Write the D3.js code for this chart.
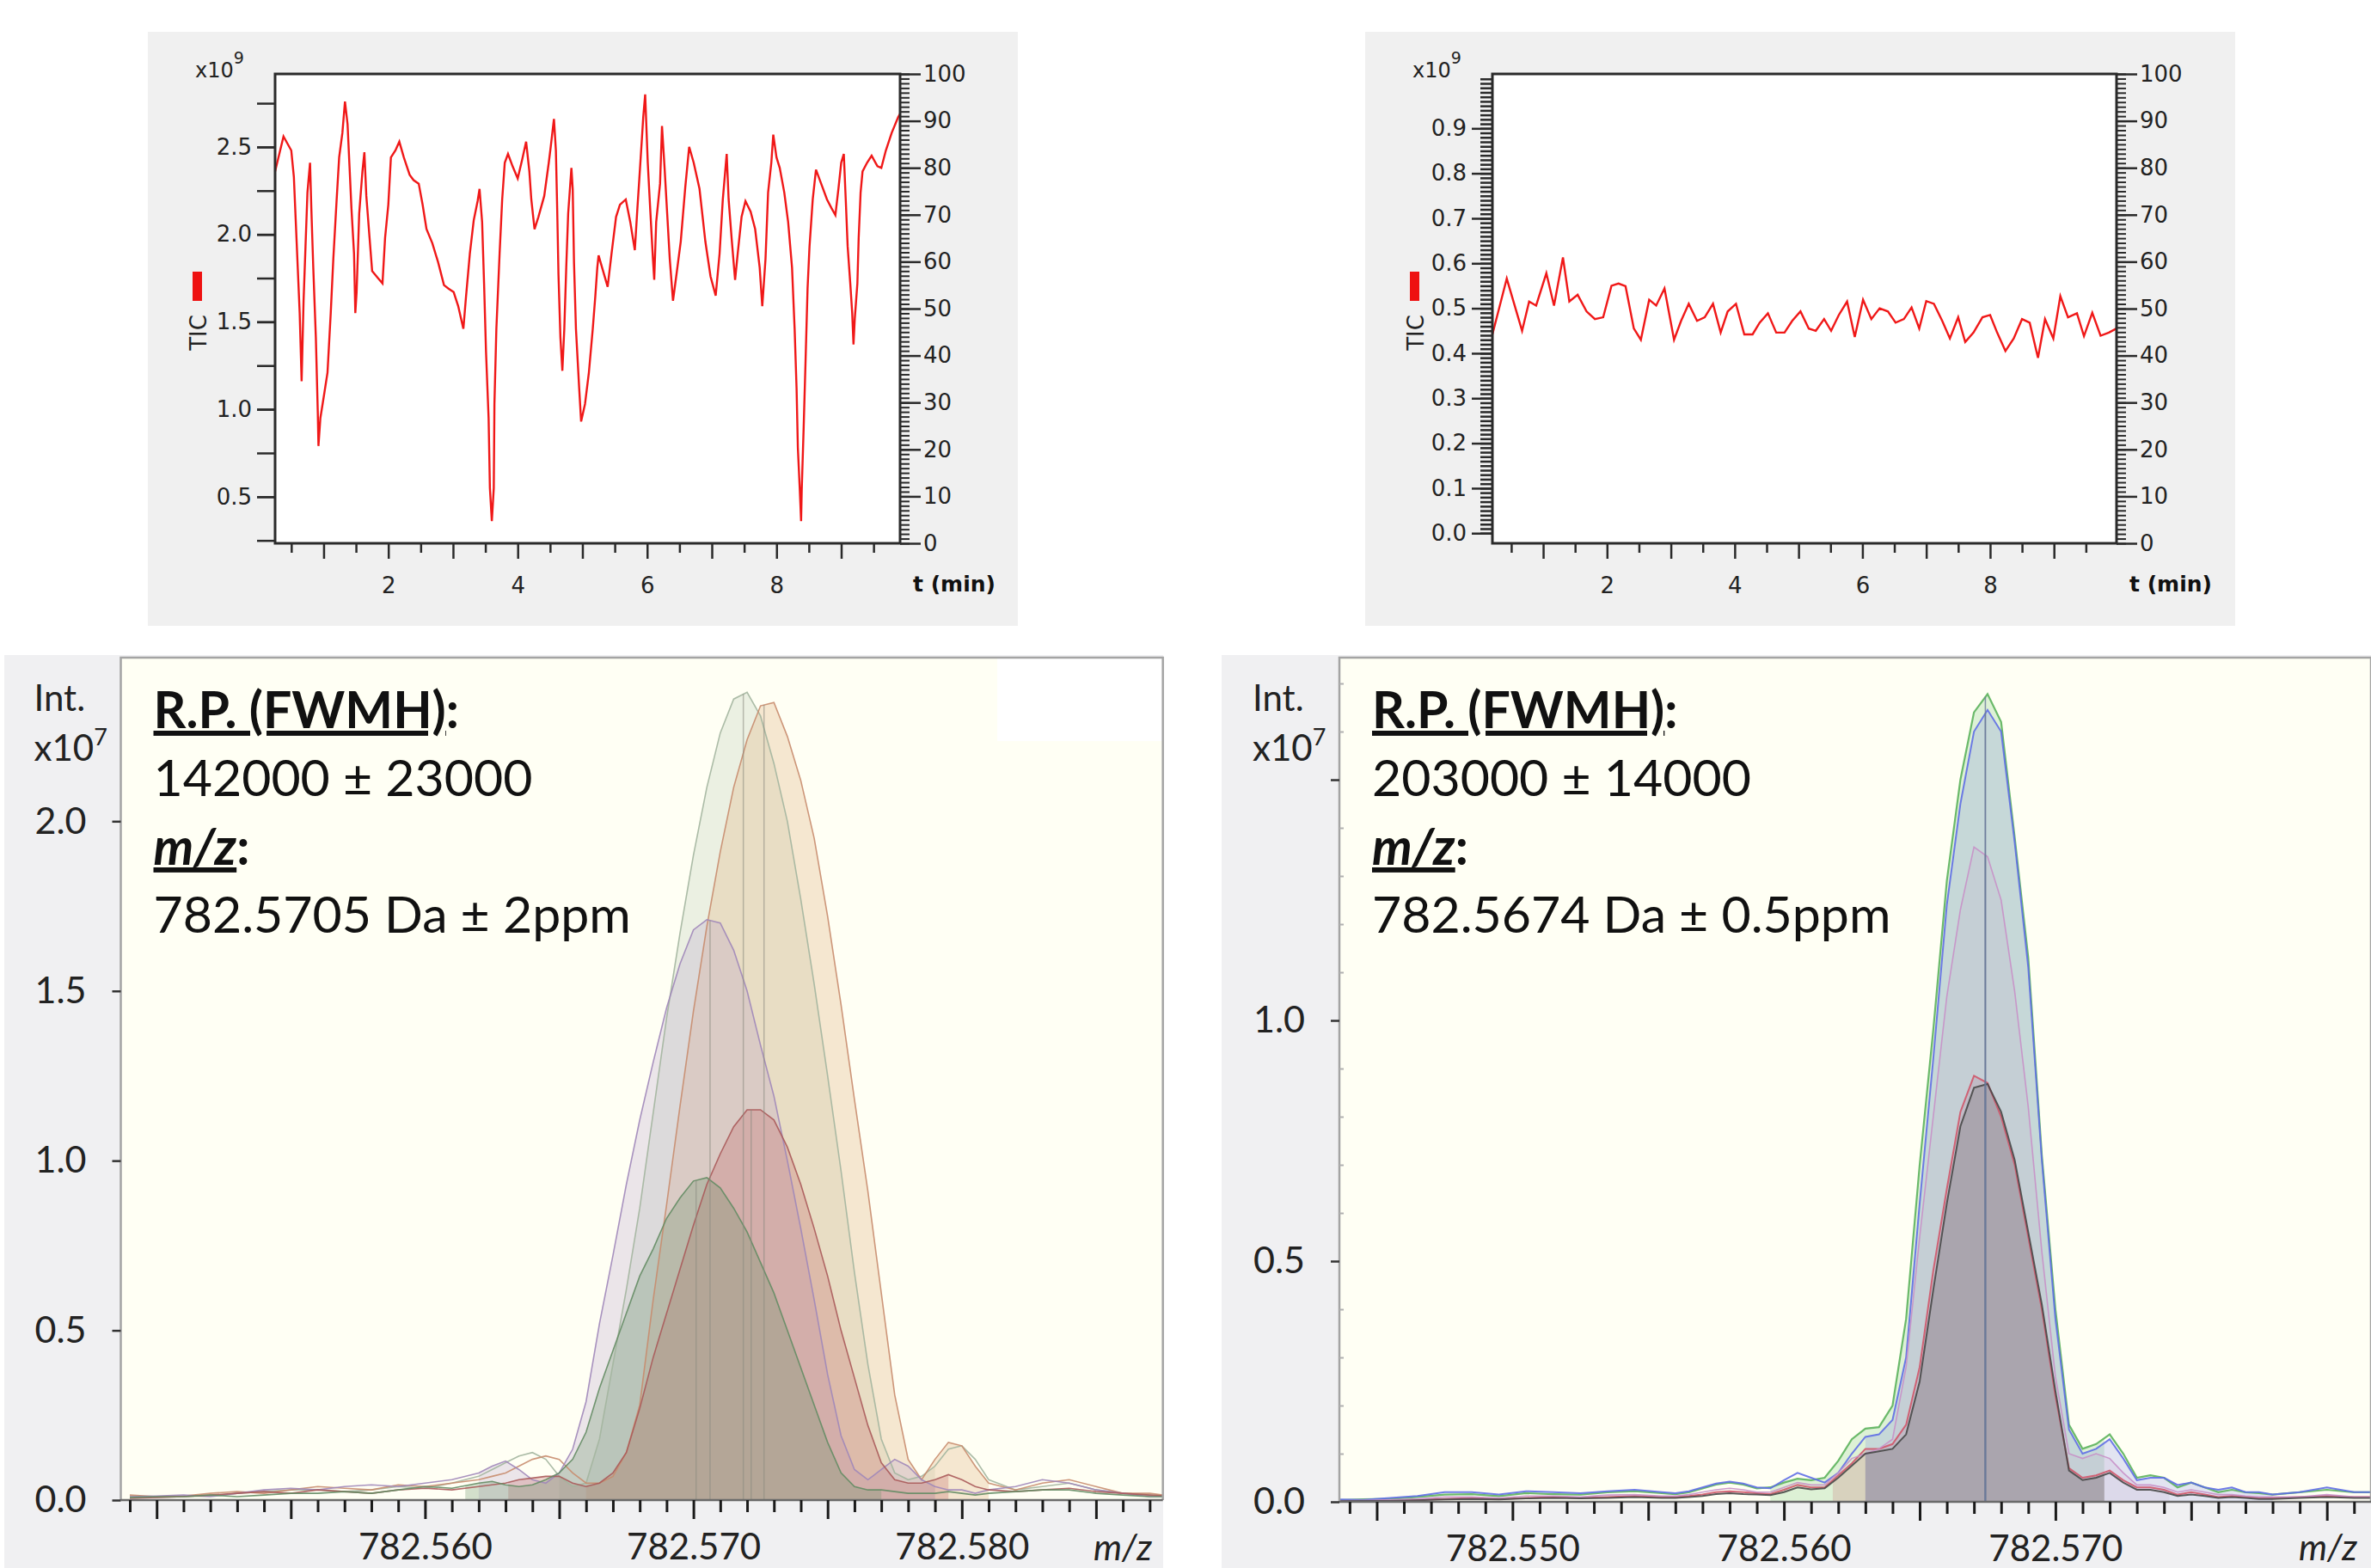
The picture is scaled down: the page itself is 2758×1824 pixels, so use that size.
<!DOCTYPE html>
<html>
<head>
<meta charset="utf-8">
<script src="https://cdn.jsdelivr.net/npm/d3@7"></script>
<style>
  body { margin: 0; background: #fff; }
  svg { display: block; }
</style>
</head>
<body>
<div id="my_dataviz"></div>
<script>

// ---------- data: total ion chromatograms (top) ----------
var ticLeftTime = [0.25,0.38,0.50,0.54,0.57,0.60,0.63,0.66,0.69,0.72,0.75,0.79,0.81,0.84,0.88,0.91,0.92,0.95,1.01,1.06,
  1.11,1.15,1.20,1.24,1.29,1.33,1.37,1.40,1.43,1.47,1.49,1.51,1.55,1.60,1.63,1.66,1.71,1.75,1.84,1.91,
  1.95,2.00,2.04,2.11,2.17,2.24,2.33,2.39,2.47,2.53,2.59,2.68,2.77,2.86,2.93,3.01,3.08,3.16,3.20,3.26,
  3.32,3.38,3.41,3.45,3.48,3.51,3.55,3.57,3.60,3.63,3.64,3.67,3.72,3.76,3.80,3.85,3.92,4.00,4.07,4.13,
  4.18,4.21,4.26,4.32,4.41,4.48,4.51,4.56,4.59,4.61,4.63,4.66,4.69,4.72,4.75,4.78,4.83,4.85,4.87,4.90,
  4.95,4.98,5.04,5.10,5.16,5.20,5.23,5.25,5.32,5.39,5.45,5.52,5.58,5.67,5.74,5.81,5.85,5.88,5.92,5.94,
  5.97,6.01,6.05,6.09,6.11,6.14,6.20,6.23,6.27,6.31,6.35,6.40,6.45,6.52,6.59,6.65,6.72,6.81,6.90,6.98,
  7.06,7.12,7.17,7.23,7.26,7.31,7.36,7.40,7.46,7.52,7.60,7.67,7.74,7.78,7.83,7.87,7.92,7.95,8.00,8.05,
  8.12,8.18,8.24,8.28,8.31,8.33,8.36,8.38,8.39,8.42,8.45,8.48,8.51,8.56,8.61,8.69,8.78,8.85,8.91,8.96,
  9.00,9.04,9.07,9.10,9.14,9.17,9.19,9.21,9.25,9.27,9.30,9.33,9.40,9.47,9.56,9.62,9.69,9.78,9.88,9.91];
var ticLeftValue = [2.36,2.56,2.48,2.33,2.07,1.81,1.55,1.16,1.62,1.93,2.24,2.41,2.15,1.81,1.41,0.98,0.79,0.95,1.09,1.21,
  1.55,1.86,2.19,2.44,2.58,2.76,2.63,2.39,2.15,1.89,1.55,1.67,2.12,2.36,2.47,2.22,1.98,1.79,1.75,1.72,
  1.98,2.17,2.44,2.48,2.53,2.44,2.34,2.31,2.29,2.17,2.03,1.95,1.84,1.71,1.69,1.67,1.59,1.46,1.64,1.89,
  2.08,2.19,2.26,2.07,1.72,1.33,0.95,0.55,0.36,0.55,1.03,1.46,1.89,2.20,2.41,2.46,2.39,2.32,2.43,2.53,
  2.36,2.20,2.03,2.10,2.22,2.41,2.50,2.66,2.48,2.15,1.77,1.41,1.22,1.46,1.81,2.12,2.38,2.26,1.84,1.46,
  1.12,0.93,1.03,1.21,1.46,1.65,1.81,1.88,1.79,1.70,1.89,2.10,2.17,2.20,2.07,1.91,2.15,2.32,2.55,2.67,
  2.80,2.41,2.13,1.86,1.74,2.07,2.29,2.62,2.38,2.12,1.86,1.62,1.76,1.96,2.27,2.50,2.41,2.26,1.96,1.76,
  1.65,1.89,2.20,2.46,2.20,1.96,1.74,1.89,2.10,2.19,2.13,2.03,1.81,1.59,1.86,2.24,2.41,2.57,2.44,2.38,
  2.24,2.07,1.81,1.46,1.12,0.78,0.54,0.36,0.54,0.90,1.29,1.69,1.93,2.20,2.37,2.29,2.20,2.15,2.11,2.27,
  2.41,2.46,2.20,1.93,1.72,1.55,1.37,1.52,1.72,1.98,2.24,2.36,2.41,2.45,2.39,2.38,2.48,2.58,2.67,2.69];

var ticRightTime = [0.205,0.43,0.67,0.78,0.89,1.05,1.17,1.31,1.41,1.54,1.68,1.81,1.94,2.07,2.18,2.29,2.42,2.53,2.66,2.77,
  2.90,3.05,3.16,3.28,3.41,3.53,3.66,3.78,3.89,4.02,4.15,4.28,4.39,4.52,4.65,4.78,4.90,5.03,5.16,5.27,
  5.40,5.51,5.63,5.76,5.88,6.01,6.14,6.27,6.40,6.52,6.65,6.77,6.89,7.00,7.12,7.25,7.37,7.50,7.61,7.74,
  7.88,8.00,8.11,8.24,8.37,8.50,8.62,8.75,8.86,8.99,9.10,9.22,9.36,9.47,9.60,9.73,9.86,9.98];
var ticRightValue = [0.442,0.566,0.450,0.515,0.506,0.578,0.506,0.613,0.515,0.530,0.493,0.476,0.480,0.550,0.555,0.549,0.455,0.430,0.519,0.506,
  0.544,0.430,0.472,0.510,0.472,0.480,0.510,0.446,0.493,0.510,0.442,0.442,0.468,0.489,0.446,0.446,0.472,0.493,0.455,0.450,
  0.476,0.450,0.485,0.515,0.436,0.519,0.476,0.500,0.493,0.468,0.476,0.502,0.455,0.516,0.510,0.472,0.433,0.480,0.425,0.446,
  0.480,0.485,0.446,0.405,0.433,0.476,0.468,0.390,0.476,0.433,0.527,0.480,0.489,0.438,0.490,0.439,0.446,0.455];

// ---------- data: overlaid mass peaks (bottom left) ----------
var mzLeft = [782.5490,782.5500,782.5510,782.5520,782.5530,782.5540,782.5550,782.5560,782.5570,782.5580,782.5590,782.5600,782.5610,782.5620,
  782.5625,782.5630,782.5635,782.5640,782.5645,782.5650,782.5655,782.5660,782.5665,782.5670,782.5675,782.5680,782.5685,782.5690,782.5695,782.5700,
  782.5705,782.5710,782.5715,782.5720,782.5725,782.5730,782.5735,782.5740,782.5745,782.5750,782.5755,782.5760,782.5765,782.5770,782.5775,782.5780,
  782.5785,782.5790,782.5795,782.5800,782.5805,782.5810,
  782.5820,782.5830,782.5840,782.5850,782.5860,782.5870,782.5880];
var scanA = [0.010,0.008,0.010,0.012,0.020,0.025,0.030,0.030,0.025,0.030,0.040,0.035,0.050,0.070,
  0.09,0.11,0.13,0.14,0.12,0.07,0.04,0.05,0.18,0.40,0.62,0.86,1.14,1.42,1.67,1.90,
  2.10,2.26,2.36,2.38,2.31,2.17,2.00,1.77,1.52,1.25,0.97,0.67,0.40,0.18,0.08,0.06,
  0.07,0.10,0.15,0.16,0.12,0.06,
  0.03,0.04,0.05,0.03,0.02,0.015,0.01];
var scanB = [0.015,0.010,0.012,0.020,0.025,0.020,0.030,0.040,0.035,0.030,0.045,0.040,0.050,0.060,
  0.07,0.08,0.10,0.12,0.13,0.12,0.08,0.05,0.05,0.07,0.14,0.28,0.59,0.87,1.16,1.44,
  1.69,1.91,2.10,2.24,2.34,2.35,2.25,2.12,1.95,1.72,1.46,1.18,0.91,0.61,0.31,0.12,
  0.06,0.12,0.17,0.16,0.10,0.05,
  0.03,0.05,0.06,0.04,0.02,0.02,0.01];
var scanC = [0.010,0.012,0.015,0.010,0.020,0.030,0.035,0.030,0.040,0.045,0.040,0.050,0.060,0.080,
  0.10,0.115,0.09,0.06,0.05,0.08,0.15,0.29,0.52,0.72,0.93,1.12,1.29,1.45,1.58,1.68,
  1.71,1.70,1.62,1.50,1.34,1.19,1.00,0.80,0.59,0.37,0.19,0.09,0.06,0.09,0.12,0.10,
  0.06,0.04,0.03,0.03,0.02,0.03,
  0.04,0.06,0.05,0.03,0.02,0.01,0.01];
var scanD = [0.005,0.008,0.010,0.015,0.020,0.025,0.020,0.030,0.025,0.020,0.030,0.035,0.030,0.040,
  0.045,0.05,0.06,0.065,0.07,0.07,0.05,0.04,0.05,0.08,0.14,0.27,0.42,0.55,0.68,0.81,
  0.93,1.02,1.10,1.15,1.15,1.12,1.04,0.93,0.80,0.66,0.50,0.36,0.22,0.11,0.06,0.05,
  0.05,0.06,0.075,0.06,0.04,0.03,
  0.025,0.03,0.035,0.025,0.02,0.015,0.01];
var scanE = [0.008,0.010,0.010,0.015,0.010,0.015,0.020,0.020,0.025,0.020,0.030,0.040,0.035,0.050,
  0.055,0.045,0.04,0.045,0.06,0.08,0.12,0.20,0.33,0.44,0.55,0.66,0.74,0.83,0.89,0.94,
  0.95,0.92,0.86,0.79,0.70,0.61,0.50,0.39,0.28,0.17,0.08,0.04,0.03,0.03,0.025,0.02,
  0.02,0.02,0.025,0.02,0.015,0.02,
  0.025,0.03,0.03,0.02,0.015,0.01,0.01];
var centroidLeft = [782.57186, 782.57263, 782.57062, 782.57215, 782.57010];

// ---------- data: overlaid mass peaks (bottom right) ----------
var mzRight = [782.5435,782.5445,782.5455,782.5465,782.5475,782.5485,782.5495,782.5505,782.5515,782.5525,782.5535,782.5545,782.5555,
  782.5560,782.5565,782.5570,782.5575,782.5580,782.5585,782.5590,782.5595,782.5600,782.5605,782.5610,782.5615,782.5620,782.5625,782.5630,
  782.5635,782.5640,782.5645,782.5650,782.5655,782.5660,782.5665,782.5670,782.5675,782.5680,782.5685,782.5690,782.5695,782.5700,782.5705,
  782.5710,782.5715,782.5720,782.5725,782.5730,782.5735,782.5740,782.5745,782.5750,782.5755,782.5760,782.5765,782.5770,782.5775,782.5780,
  782.5790,782.5800,782.5810,782.5820];
var runGreen = [0.003,0.005,0.006,0.010,0.015,0.016,0.012,0.018,0.016,0.015,0.020,0.022,0.018,
  0.016,0.020,0.028,0.036,0.040,0.036,0.028,0.030,0.040,0.048,0.045,0.050,0.085,0.13,0.152,
  0.155,0.20,0.38,0.70,0.98,1.29,1.50,1.64,1.678,1.62,1.38,1.13,0.72,0.40,0.16,
  0.11,0.12,0.14,0.10,0.05,0.055,0.05,0.03,0.04,0.03,0.02,0.025,0.02,0.018,0.015,
  0.02,0.025,0.02,0.02];
var runBlue = [0.005,0.004,0.008,0.012,0.020,0.020,0.015,0.022,0.020,0.018,0.022,0.025,0.020,
  0.018,0.022,0.030,0.038,0.042,0.038,0.030,0.028,0.045,0.060,0.050,0.040,0.060,0.10,0.135,
  0.14,0.17,0.30,0.62,0.92,1.24,1.45,1.60,1.645,1.60,1.37,1.11,0.71,0.38,0.15,
  0.10,0.11,0.13,0.09,0.045,0.05,0.05,0.035,0.04,0.03,0.025,0.03,0.02,0.02,0.015,
  0.02,0.03,0.02,0.02];
var runMauve = [0.002,0.003,0.004,0.006,0.010,0.010,0.008,0.012,0.012,0.010,0.014,0.015,0.012,
  0.012,0.015,0.020,0.025,0.028,0.025,0.020,0.020,0.030,0.040,0.035,0.035,0.060,0.09,0.10,
  0.11,0.13,0.28,0.55,0.80,1.05,1.23,1.36,1.34,1.25,1.06,0.82,0.52,0.26,0.10,
  0.09,0.10,0.09,0.06,0.035,0.035,0.03,0.02,0.025,0.02,0.015,0.015,0.012,0.01,0.01,
  0.01,0.015,0.01,0.01];
var runRed = [0.002,0.002,0.003,0.004,0.006,0.008,0.006,0.008,0.010,0.008,0.010,0.012,0.010,
  0.010,0.012,0.015,0.020,0.022,0.020,0.018,0.016,0.025,0.035,0.030,0.030,0.055,0.08,0.11,
  0.11,0.12,0.16,0.28,0.48,0.65,0.81,0.885,0.87,0.80,0.70,0.55,0.40,0.22,0.07,
  0.05,0.055,0.065,0.045,0.03,0.03,0.025,0.015,0.02,0.015,0.01,0.012,0.01,0.008,0.008,
  0.01,0.012,0.01,0.01];
var runDark = [0.001,0.002,0.002,0.003,0.005,0.006,0.005,0.007,0.008,0.007,0.008,0.010,0.008,
  0.008,0.010,0.012,0.016,0.018,0.016,0.015,0.014,0.020,0.030,0.026,0.028,0.050,0.075,0.10,
  0.105,0.11,0.14,0.25,0.44,0.62,0.78,0.86,0.868,0.81,0.71,0.56,0.41,0.23,0.065,
  0.045,0.05,0.06,0.04,0.025,0.025,0.02,0.012,0.015,0.012,0.008,0.01,0.008,0.006,0.006,
  0.008,0.01,0.008,0.008];
var centroidRight = 782.56742;

// ---------- axis tick values ----------
var ticLeftMajor = [0.5, 1.0, 1.5, 2.0, 2.5];
var ticRightMajor = [0.0, 0.1, 0.2, 0.3, 0.4, 0.5, 0.6, 0.7, 0.8, 0.9];
var timeLabels = [2, 4, 6, 8];
var intLeftLabels = [0.0, 0.5, 1.0, 1.5, 2.0];
var intRightLabels = [0.0, 0.5, 1.0];

var W = 2758, H = 1824;
var svg = d3.select("#my_dataviz")
  .append("svg")
    .attr("width", W)
    .attr("height", H);

// helper: style the ticks an axis call just produced
function styleAxis(sel, color, width) {
  sel.select(".domain").remove();
  sel.selectAll("line").attr("stroke", color).attr("stroke-width", width);
}

// ================= TIC panels =================
function drawTic(p) {
  var top = 86, bottom = 632;
  var g = svg.append("g");

  g.append("rect")
    .attr("x", p.cardX).attr("y", 37)
    .attr("width", 1012).attr("height", 691)
    .attr("fill", "#f0f0f0");
  g.append("rect")
    .attr("x", p.left).attr("y", top)
    .attr("width", p.right - p.left).attr("height", bottom - top)
    .attr("fill", "#fff");

  var x = d3.scaleLinear().domain(p.xDomain).range([p.left, p.right]);
  var y = d3.scaleLinear().domain(p.yDomain).range([bottom, top]);
  var y2 = d3.scaleLinear().domain([0, 100]).range([bottom, top]);

  // the red trace
  var line = d3.line()
    .x(function (d, i) { return x(p.time[i]); })
    .y(function (d) { return y(d); });
  g.append("path")
    .datum(p.value)
    .attr("d", line)
    .attr("fill", "none")
    .attr("stroke", "#f01818")
    .attr("stroke-width", 2.4)
    .attr("stroke-linejoin", "miter");

  // left axis
  g.append("g")
    .attr("transform", "translate(" + p.left + ",0)")
    .call(d3.axisLeft(y).tickValues(p.yMinor).tickSize(p.minorLen).tickFormat(""))
    .call(styleAxis, "#2a2a2a", 2.5);
  var yl = g.append("g")
    .attr("transform", "translate(" + p.left + ",0)")
    .call(d3.axisLeft(y).tickValues(p.yMajor).tickSize(p.majorLen).tickPadding(6).tickFormat(d3.format(".1f")))
    .call(styleAxis, "#2a2a2a", 2.5);
  yl.selectAll("text").attr("font-family", "DejaVu Sans").attr("font-size", 26).attr("fill", "#222");

  // right axis 0-100
  g.append("g")
    .attr("transform", "translate(" + p.right + ",0)")
    .call(d3.axisRight(y2).tickValues(d3.range(0, 101)).tickSize(11).tickFormat(""))
    .call(styleAxis, "#2a2a2a", 2);
  var yr = g.append("g")
    .attr("transform", "translate(" + p.right + ",0)")
    .call(d3.axisRight(y2).tickValues(d3.range(0, 101, 10)).tickSize(24).tickPadding(3).tickFormat(d3.format("d")))
    .call(styleAxis, "#2a2a2a", 2.5);
  yr.selectAll("text").attr("font-family", "DejaVu Sans").attr("font-size", 26).attr("fill", "#222");

  // bottom axis: half minutes short, minutes long
  g.append("g")
    .attr("transform", "translate(0," + bottom + ")")
    .call(d3.axisBottom(x).tickValues(d3.range(1, 20, 2).map(function (k) { return k / 2; })).tickSize(11).tickFormat(""))
    .call(styleAxis, "#2a2a2a", 2.5);
  g.append("g")
    .attr("transform", "translate(0," + bottom + ")")
    .call(d3.axisBottom(x).tickValues(d3.range(1, 10)).tickSize(18).tickFormat(""))
    .call(styleAxis, "#2a2a2a", 2.5);
  var xb = g.append("g")
    .attr("transform", "translate(0," + bottom + ")")
    .call(d3.axisBottom(x).tickValues(timeLabels).tickSize(0).tickPadding(40).tickFormat(d3.format("d")))
    .call(styleAxis, "#2a2a2a", 0);
  xb.selectAll("text").attr("font-family", "DejaVu Sans").attr("font-size", 26).attr("fill", "#222");

  // frame
  g.append("rect")
    .attr("x", p.left).attr("y", top)
    .attr("width", p.right - p.left).attr("height", bottom - top)
    .attr("fill", "none").attr("stroke", "#2a2a2a").attr("stroke-width", 3);

  // labels
  g.append("text")
    .attr("x", p.right + 15).attr("y", 688)
    .attr("font-family", "DejaVu Sans").attr("font-weight", "bold").attr("font-size", 25)
    .attr("fill", "#111").text("t (min)");
  var xt = g.append("text")
    .attr("x", p.left - 93).attr("y", 90)
    .attr("font-family", "DejaVu Sans").attr("font-size", 24).attr("fill", "#222");
  xt.append("tspan").text("x10");
  xt.append("tspan").attr("dy", -16).attr("font-size", 19).text("9");
  g.append("rect")
    .attr("x", p.left - 96).attr("y", 316)
    .attr("width", 11).attr("height", 34)
    .attr("fill", "#ee1111");
  g.append("text")
    .attr("transform", "translate(" + (p.left - 80) + ",387) rotate(-90)")
    .attr("text-anchor", "middle")
    .attr("font-family", "DejaVu Sans").attr("font-size", 26).attr("fill", "#222")
    .text("TIC");
}

drawTic({
  cardX: 172, left: 320, right: 1047,
  xDomain: [0.25, 9.91], yDomain: [0.2335, 2.9175],
  time: ticLeftTime, value: ticLeftValue,
  yMinor: d3.range(1, 12).map(function (k) { return k * 0.25; }),
  yMajor: ticLeftMajor, minorLen: 21, majorLen: 21
});
drawTic({
  cardX: 1588, left: 1736, right: 2462,
  xDomain: [0.205, 9.98], yDomain: [-0.0225, 1.0210],
  time: ticRightTime, value: ticRightValue,
  yMinor: d3.range(0, 102).map(function (k) { return k / 100; }),
  yMajor: ticRightMajor, minorLen: 14, majorLen: 24
});

// ================= mass spectrum panels =================
function valueAt(xs, vs, m) {
  var i = d3.bisectLeft(xs, m);
  if (i <= 0) return vs[0];
  if (i >= xs.length) return vs[vs.length - 1];
  var t = (m - xs[i - 1]) / (xs[i] - xs[i - 1]);
  return vs[i - 1] + t * (vs[i] - vs[i - 1]);
}

function drawSpec(p) {
  var top = 765;
  var g = svg.append("g");

  g.append("rect")
    .attr("x", p.cardX).attr("y", 762)
    .attr("width", p.cardW).attr("height", H - 762)
    .attr("fill", "#f0f0f2");
  g.append("rect")
    .attr("x", p.left).attr("y", top)
    .attr("width", p.right - p.left).attr("height", p.bottom - top)
    .attr("fill", "#fffff4");
  if (p.whitePatch) {
    g.append("rect")
      .attr("x", p.whitePatch[0]).attr("y", top)
      .attr("width", p.right - p.whitePatch[0]).attr("height", p.whitePatch[1] - top)
      .attr("fill", "#ffffff");
  }

  var x = d3.scaleLinear().domain(p.xDomain).range([p.left, p.right]);
  var y = d3.scaleLinear().domain([0, p.yTop]).range([p.bottom, top]);

  var clipId = "clip" + p.cardX;
  g.append("clipPath").attr("id", clipId)
    .append("rect")
      .attr("x", p.left).attr("y", top)
      .attr("width", p.right - p.left).attr("height", p.bottom - top);
  var plot = g.append("g").attr("clip-path", "url(#" + clipId + ")");

  var area = d3.area()
    .x(function (d) { return x(d[0]); })
    .y0(y(0))
    .y1(function (d) { return y(d[1]); });
  var line = d3.line()
    .x(function (d, i) { return x(p.mz[i]); })
    .y(function (d) { return y(d); });

  // translucent fills over each scan's integration range
  p.series.forEach(function (s) {
    var pts = [[s.from, valueAt(p.mz, s.values, s.from)]];
    p.mz.forEach(function (m, i) { if (m > s.from && m < s.to) pts.push([m, s.values[i]]); });
    pts.push([s.to, valueAt(p.mz, s.values, s.to)]);
    plot.append("path").datum(pts).attr("d", area).attr("fill", s.fill);
  });
  // profile lines
  p.series.forEach(function (s) {
    plot.append("path")
      .datum(s.values)
      .attr("d", line)
      .attr("fill", "none")
      .attr("stroke", s.stroke)
      .attr("stroke-width", s.width || 1.6)
      .attr("stroke-opacity", 0.9);
  });
  // centroid sticks
  p.series.forEach(function (s) {
    plot.append("line")
      .attr("x1", x(s.centroid)).attr("x2", x(s.centroid))
      .attr("y1", y(0)).attr("y2", y(valueAt(p.mz, s.values, s.centroid)))
      .attr("stroke", p.stickColor || s.stroke).attr("stroke-width", 1.5).attr("stroke-opacity", p.stickOpacity);
  });

  // frame
  g.append("path")
    .attr("d", "M" + p.left + "," + p.bottom + "V" + top + "H" + p.right + "V" + p.bottom)
    .attr("fill", "none").attr("stroke", "#a4a4a4").attr("stroke-width", 2.5);
  g.append("line")
    .attr("x1", p.left).attr("x2", p.right).attr("y1", p.bottom).attr("y2", p.bottom)
    .attr("stroke", "#6a6a6a").attr("stroke-width", 2.5);

  // m/z ticks: every 0.001, longer every 0.005
  var ks = d3.range(p.kRange[0], p.kRange[1] + 1);
  g.append("g")
    .attr("transform", "translate(0," + p.bottom + ")")
    .call(d3.axisBottom(x).tickValues(ks.filter(function (k) { return k % 5 !== 0; }).map(function (k) { return 782 + k / 1000; })).tickSize(14).tickFormat(""))
    .call(styleAxis, "#1a1a1a", 3);
  g.append("g")
    .attr("transform", "translate(0," + p.bottom + ")")
    .call(d3.axisBottom(x).tickValues(ks.filter(function (k) { return k % 5 === 0; }).map(function (k) { return 782 + k / 1000; })).tickSize(22).tickFormat(""))
    .call(styleAxis, "#1a1a1a", 3);
  var xl = g.append("g")
    .attr("transform", "translate(0," + p.bottom + ")")
    .call(d3.axisBottom(x).tickValues(p.mzLabels).tickSize(0).tickPadding(39).tickFormat(d3.format(".3f")))
    .call(styleAxis, "#1a1a1a", 0);
  xl.selectAll("text").attr("font-family", "Lato").attr("font-size", 42).attr("fill", "#222");
  g.append("text")
    .attr("x", p.mzLabelX).attr("y", 1815)
    .attr("font-family", "Lato").attr("font-style", "italic").attr("font-size", 42).attr("fill", "#222")
    .text("m/z");

  // intensity axis
  var yl = g.append("g")
    .attr("transform", "translate(" + p.left + ",0)")
    .call(d3.axisLeft(y).tickValues(p.yTicks).tickSize(10).tickPadding(30).tickFormat(function (d) {
      return p.yLabels.indexOf(d) >= 0 ? d3.format(".1f")(d) : "";
    }))
    .call(styleAxis, "#333", 2.5);
  yl.selectAll("text").attr("font-family", "Lato").attr("font-size", 43).attr("fill", "#222");
  if (p.yMinor) {
    g.append("g")
      .attr("transform", "translate(" + p.left + ",0)")
      .call(d3.axisRight(y).tickValues(p.yMinor).tickSize(5).tickFormat(""))
      .call(styleAxis, "#b0b0b0", 2);
  }
  g.append("text")
    .attr("x", p.left - 101).attr("y", 827)
    .attr("font-family", "Lato").attr("font-size", 42).attr("fill", "#222")
    .text("Int.");
  var xt = g.append("text")
    .attr("x", p.left - 101).attr("y", 885)
    .attr("font-family", "Lato").attr("font-size", 42).attr("fill", "#222");
  xt.append("tspan").text("x10");
  xt.append("tspan").attr("dy", -18).attr("font-size", 27).text("7");

  // resolution / mass annotation
  var tx = p.left + 38;
  var t1 = g.append("text").attr("x", tx).attr("y", 847)
    .attr("font-family", "Lato").attr("font-size", 59).attr("font-weight", "bold").attr("fill", "#111");
  t1.append("tspan").attr("text-decoration", "underline").text("R.P. (FWMH)");
  t1.append("tspan").text(":");
  g.append("text").attr("x", tx).attr("y", 926)
    .attr("font-family", "Lato").attr("font-size", 59).attr("fill", "#111")
    .text(p.rp);
  var t3 = g.append("text").attr("x", tx).attr("y", 1006)
    .attr("font-family", "Lato").attr("font-size", 59).attr("font-weight", "bold").attr("fill", "#111");
  t3.append("tspan").attr("font-style", "italic").attr("text-decoration", "underline").text("m/z");
  t3.append("tspan").text(":");
  g.append("text").attr("x", tx).attr("y", 1085)
    .attr("font-family", "Lato").attr("font-size", 59).attr("fill", "#111")
    .text(p.mass);
}

drawSpec({
  cardX: 5, cardW: 1348, left: 140.5, right: 1352.7, bottom: 1745,
  xDomain: [782.548664, 782.587492], yTop: 2.482,
  kRange: [549, 587], mzLabels: [782.560, 782.570, 782.580], mzLabelX: 1272,
  yTicks: intLeftLabels, yLabels: intLeftLabels,
  whitePatch: [1160, 862],
  stickColor: "#8a8a80", stickOpacity: 0.55,
  mz: mzLeft,
  series: [
    { values: scanA, stroke: "#a3b59e", fill: "rgba(190,205,185,0.30)", from: 782.5650, to: 782.5790, centroid: centroidLeft[0] },
    { values: scanB, stroke: "#c88c6e", fill: "rgba(225,185,140,0.35)", from: 782.5660, to: 782.5810, centroid: centroidLeft[1] },
    { values: scanC, stroke: "#a087b9", fill: "rgba(175,150,200,0.25)", from: 782.5620, to: 782.5790, centroid: centroidLeft[2] },
    { values: scanD, stroke: "#aa5a5a", fill: "rgba(195,110,110,0.30)", from: 782.5631, to: 782.5795, centroid: centroidLeft[3] },
    { values: scanE, stroke: "#648c64", fill: "rgba(110,150,110,0.30)", from: 782.5615, to: 782.5770, centroid: centroidLeft[4] }
  ],
  rp: "142000 \u00b1 23000", mass: "782.5705 Da \u00b1 2ppm"
});

drawSpec({
  cardX: 1421, cardW: W - 1421, left: 1558, right: 2758, bottom: 1747,
  xDomain: [782.543624, 782.581625], yTop: 1.7536,
  kRange: [544, 581], mzLabels: [782.550, 782.560, 782.570], mzLabelX: 2674,
  yTicks: [0.0, 0.5, 1.0, 1.5], yLabels: intRightLabels,
  yMinor: d3.range(1, 18).map(function (k) { return k / 10; }).filter(function (v) { return Math.round(v * 10) % 5 !== 0; }),
  stickColor: "#6a7a9a", stickOpacity: 0.8,
  mz: mzRight,
  series: [
    { values: runGreen, stroke: "#5cb25c", fill: "rgba(120,200,120,0.25)", from: 782.5595, to: 782.5718, centroid: centroidRight, width: 2.2 },
    { values: runRed, stroke: "#d0566a", fill: "rgba(200,90,100,0.20)", from: 782.5618, to: 782.5718, centroid: centroidRight, width: 2 },
    { values: runBlue, stroke: "#5f6ee6", fill: "rgba(110,120,230,0.20)", from: 782.5630, to: 782.5780, centroid: centroidRight, width: 2 },
    { values: runMauve, stroke: "#c890c8", fill: "rgba(190,160,200,0.16)", from: 782.5630, to: 782.5742, centroid: centroidRight, width: 1.6 },
    { values: runDark, stroke: "#484848", fill: "rgba(80,80,80,0.20)", from: 782.5630, to: 782.5718, centroid: centroidRight, width: 2 }
  ],
  rp: "203000 \u00b1 14000", mass: "782.5674 Da \u00b1 0.5ppm"
});

</script>
</body>
</html>
